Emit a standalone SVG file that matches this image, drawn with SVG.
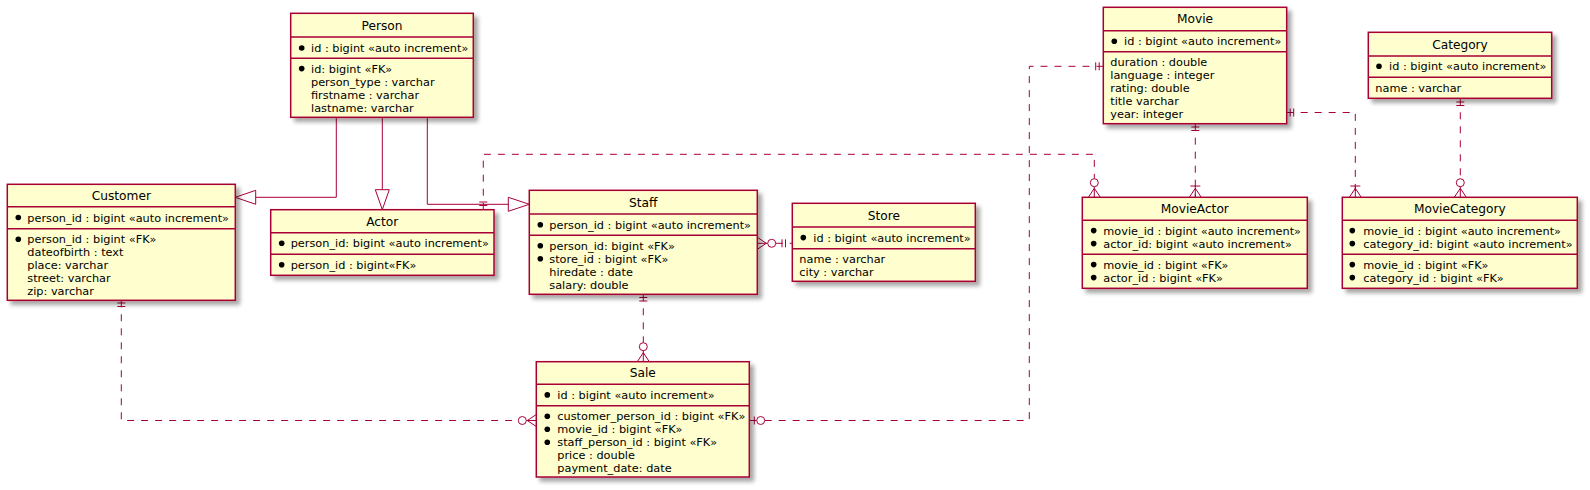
<svg xmlns="http://www.w3.org/2000/svg" width="1590" height="490" viewBox="0 0 1590 490">
<defs>
<filter id="sh" x="-10%" y="-10%" width="130%" height="130%">
<feGaussianBlur in="SourceAlpha" stdDeviation="2"/>
<feOffset dx="4" dy="4"/>
<feComponentTransfer><feFuncA type="linear" slope="0.35"/></feComponentTransfer>
<feMerge><feMergeNode/><feMergeNode in="SourceGraphic"/></feMerge>
</filter>
</defs>
<style>
.box{fill:#FEFECE;stroke:#A80036;stroke-width:1.5;filter:url(#sh)}
.sep{stroke:#A80036;stroke-width:1.5}
.t{font-family:"DejaVu Sans",sans-serif;font-size:12.2px;fill:#000;text-anchor:middle}
.a{font-family:"DejaVu Sans",sans-serif;font-size:11.3px;fill:#000}
.b{fill:#000}
.c{fill:none;stroke:#A80036;stroke-width:1}
.d{fill:none;stroke:#A80036;stroke-width:1;stroke-dasharray:7,7}
.o{fill:#FFFFFF;stroke:#A80036;stroke-width:1}
</style>

<g id="connectors">
<!-- Person -> Customer -->
<path class="c" d="M336.3,117.3 V197.3 H255.7"/>
<polygon class="c" points="235.3,197.3 255.7,190.3 255.7,204.3"/>
<!-- Person -> Actor -->
<path class="c" d="M382.3,117.3 V189.7"/>
<polygon class="c" points="382.3,209.7 375.3,189.7 389.3,189.7"/>
<!-- Person -> Staff -->
<path class="c" d="M427.3,117.3 V204.3 H508.3"/>
<polygon class="c" points="529.3,204.3 508.3,197.3 508.3,211.3"/>

<!-- Actor -> MovieActor -->
<path class="d" d="M483.3,209.7 V154.3 H1094.3 V178.7"/>
<path class="c" d="M479.3,202 H487.3 M479.3,205.5 H487.3"/>
<circle class="o" cx="1094.3" cy="182.7" r="4"/>
<path class="c" d="M1094.3,186.7 V197.3 M1094.3,188.3 L1088.3,197.3 M1094.3,188.3 L1100.3,197.3"/>

<!-- Movie -> MovieActor -->
<path class="d" d="M1195.3,123.7 V197.3"/>
<path class="c" d="M1191.3,127 H1199.3 M1191.3,130.5 H1199.3 M1190.3,186 H1200.3 M1195.3,188.3 L1189.3,197.3 M1195.3,188.3 L1201.3,197.3 M1195.3,186 V197.3"/>

<!-- Movie -> MovieCategory -->
<path class="d" d="M1286.7,112.5 H1355.3 V197.3"/>
<path class="c" d="M1290.2,108.5 V116.5 M1293.7,108.5 V116.5 M1350.3,186 H1360.3 M1355.3,188.3 L1349.3,197.3 M1355.3,188.3 L1361.3,197.3 M1355.3,186 V197.3"/>

<!-- Category -> MovieCategory -->
<path class="d" d="M1460.3,98.3 V178.7"/>
<path class="c" d="M1456.3,102 H1464.3 M1456.3,105.5 H1464.3"/>
<circle class="o" cx="1460.3" cy="182.7" r="4"/>
<path class="c" d="M1460.3,186.7 V197.3 M1460.3,188.3 L1454.3,197.3 M1460.3,188.3 L1466.3,197.3"/>

<!-- Staff -> Store -->
<path class="d" d="M775.7,243.3 H792.3"/>
<path class="c" d="M757.3,243.3 H767.7 M766.3,243.3 L757.3,237.3 M766.3,243.3 L757.3,249.3 M782,239.3 V247.3 M785.5,239.3 V247.3"/>
<circle class="o" cx="771.7" cy="243.3" r="4"/>

<!-- Staff -> Sale -->
<path class="d" d="M643.3,294.3 V342.7"/>
<path class="c" d="M639.3,297.5 H647.3 M639.3,301 H647.3"/>
<circle class="o" cx="643.3" cy="346.7" r="4"/>
<path class="c" d="M643.3,350.7 V361.7 M643.3,352.7 L637.3,361.7 M643.3,352.7 L649.3,361.7"/>

<!-- Customer -> Sale -->
<path class="d" d="M121.3,300.3 V420.5 H518.3"/>
<path class="c" d="M117.3,303 H125.3 M117.3,306.5 H125.3"/>
<circle class="o" cx="522.3" cy="420.5" r="4"/>
<path class="c" d="M526.3,420.5 H536.3 M527.3,420.5 L536.3,414.5 M527.3,420.5 L536.3,426.5"/>

<!-- Sale -> Movie -->
<path class="d" d="M764.7,420.5 H1029.3 V66.3 H1103.3"/>
<path class="c" d="M749.3,420.5 H756.7 M754.3,416.5 V424.5"/>
<circle class="o" cx="760.7" cy="420.5" r="4"/>
<path class="c" d="M1095.7,62.3 V70.3 M1099.2,62.3 V70.3"/>
</g>

<g id="Person">
<rect class="box" x="290.7" y="13.3" width="182.6" height="104"/>
<path class="sep" d="M290.7,37 H473.3 M290.7,58.3 H473.3"/>
<text class="t" x="382" y="29.6">Person</text>
<circle class="b" cx="301.7" cy="48" r="2.8"/>
<text class="a" x="311" y="52">id : bigint «auto increment»</text>
<circle class="b" cx="301.7" cy="68.6" r="2.8"/>
<text class="a" x="311" y="72.6">id: bigint «FK»</text>
<text class="a" x="311" y="85.6">person_type : varchar</text>
<text class="a" x="311" y="98.6">firstname : varchar</text>
<text class="a" x="311" y="111.6">lastname: varchar</text>
</g>

<g id="Customer">
<rect class="box" x="7.3" y="184.3" width="228" height="116"/>
<path class="sep" d="M7.3,206.7 H235.3 M7.3,228.7 H235.3"/>
<text class="t" x="121.3" y="199.9">Customer</text>
<circle class="b" cx="18.3" cy="217.5" r="2.8"/>
<text class="a" x="27.3" y="221.5">person_id : bigint «auto increment»</text>
<circle class="b" cx="18.3" cy="239.2" r="2.8"/>
<text class="a" x="27.3" y="243.2">person_id : bigint «FK»</text>
<text class="a" x="27.3" y="256.2">dateofbirth : text</text>
<text class="a" x="27.3" y="269.2">place: varchar</text>
<text class="a" x="27.3" y="282.2">street: varchar</text>
<text class="a" x="27.3" y="295.2">zip: varchar</text>
</g>

<g id="Actor">
<rect class="box" x="270.7" y="209.7" width="223.3" height="65.6"/>
<path class="sep" d="M270.7,232.7 H494 M270.7,254.3 H494"/>
<text class="t" x="382.3" y="225.6">Actor</text>
<circle class="b" cx="281.7" cy="243.2" r="2.8"/>
<text class="a" x="290.7" y="247.2">person_id: bigint «auto increment»</text>
<circle class="b" cx="281.7" cy="264.8" r="2.8"/>
<text class="a" x="290.7" y="268.8">person_id : bigint«FK»</text>
</g>

<g id="Staff">
<rect class="box" x="529.3" y="190.3" width="228" height="104"/>
<path class="sep" d="M529.3,214 H757.3 M529.3,235.3 H757.3"/>
<text class="t" x="643.3" y="206.6">Staff</text>
<circle class="b" cx="540.3" cy="224.7" r="2.8"/>
<text class="a" x="549.3" y="228.7">person_id : bigint «auto increment»</text>
<circle class="b" cx="540.3" cy="245.8" r="2.8"/>
<text class="a" x="549.3" y="249.8">person_id: bigint «FK»</text>
<circle class="b" cx="540.3" cy="258.8" r="2.8"/>
<text class="a" x="549.3" y="262.8">store_id : bigint «FK»</text>
<text class="a" x="549.3" y="275.8">hiredate : date</text>
<text class="a" x="549.3" y="288.8">salary: double</text>
</g>

<g id="Store">
<rect class="box" x="792.3" y="203.3" width="183" height="78"/>
<path class="sep" d="M792.3,227 H975.3 M792.3,248.7 H975.3"/>
<text class="t" x="883.8" y="219.6">Store</text>
<circle class="b" cx="803.3" cy="237.6" r="2.8"/>
<text class="a" x="813.3" y="241.6">id : bigint «auto increment»</text>
<text class="a" x="799.3" y="263.2">name : varchar</text>
<text class="a" x="799.3" y="276.2">city : varchar</text>
</g>

<g id="Sale">
<rect class="box" x="536.3" y="361.7" width="213" height="115.3"/>
<path class="sep" d="M536.3,384.3 H749.3 M536.3,405.7 H749.3"/>
<text class="t" x="642.8" y="377.4">Sale</text>
<circle class="b" cx="547.3" cy="394.9" r="2.8"/>
<text class="a" x="557.3" y="398.9">id : bigint «auto increment»</text>
<circle class="b" cx="547.3" cy="416.2" r="2.8"/>
<text class="a" x="557.3" y="420.2">customer_person_id : bigint «FK»</text>
<circle class="b" cx="547.3" cy="429.2" r="2.8"/>
<text class="a" x="557.3" y="433.2">movie_id : bigint «FK»</text>
<circle class="b" cx="547.3" cy="442.2" r="2.8"/>
<text class="a" x="557.3" y="446.2">staff_person_id : bigint «FK»</text>
<text class="a" x="557.3" y="459.2">price : double</text>
<text class="a" x="557.3" y="472.2">payment_date: date</text>
</g>

<g id="Movie">
<rect class="box" x="1103.3" y="7.3" width="183.4" height="116.4"/>
<path class="sep" d="M1103.3,30.7 H1286.7 M1103.3,51.7 H1286.7"/>
<text class="t" x="1195" y="23.4">Movie</text>
<circle class="b" cx="1114.3" cy="41.2" r="2.8"/>
<text class="a" x="1124" y="45.2">id : bigint «auto increment»</text>
<text class="a" x="1110.3" y="66">duration : double</text>
<text class="a" x="1110.3" y="79">language : integer</text>
<text class="a" x="1110.3" y="92">rating: double</text>
<text class="a" x="1110.3" y="105">title varchar</text>
<text class="a" x="1110.3" y="118">year: integer</text>
</g>

<g id="Category">
<rect class="box" x="1368.3" y="32.3" width="183.4" height="66"/>
<path class="sep" d="M1368.3,56 H1551.7 M1368.3,77.3 H1551.7"/>
<text class="t" x="1460" y="48.6">Category</text>
<circle class="b" cx="1379" cy="66.3" r="2.8"/>
<text class="a" x="1389" y="70.3">id : bigint «auto increment»</text>
<text class="a" x="1375.3" y="91.6">name : varchar</text>
</g>

<g id="MovieActor">
<rect class="box" x="1082.3" y="197.3" width="225" height="91"/>
<path class="sep" d="M1082.3,220.3 H1307.3 M1082.3,254.3 H1307.3"/>
<text class="t" x="1194.8" y="213.2">MovieActor</text>
<circle class="b" cx="1093.7" cy="230.6" r="2.8"/>
<text class="a" x="1103.3" y="234.6">movie_id : bigint «auto increment»</text>
<circle class="b" cx="1093.7" cy="243.6" r="2.8"/>
<text class="a" x="1103.3" y="247.6">actor_id: bigint «auto increment»</text>
<circle class="b" cx="1093.7" cy="264.6" r="2.8"/>
<text class="a" x="1103.3" y="268.6">movie_id : bigint «FK»</text>
<circle class="b" cx="1093.7" cy="277.6" r="2.8"/>
<text class="a" x="1103.3" y="281.6">actor_id : bigint «FK»</text>
</g>

<g id="MovieCategory">
<rect class="box" x="1342.3" y="197.3" width="235" height="91"/>
<path class="sep" d="M1342.3,220.3 H1577.3 M1342.3,254.3 H1577.3"/>
<text class="t" x="1459.8" y="213.2">MovieCategory</text>
<circle class="b" cx="1352.3" cy="230.6" r="2.8"/>
<text class="a" x="1363.3" y="234.6">movie_id : bigint «auto increment»</text>
<circle class="b" cx="1352.3" cy="243.6" r="2.8"/>
<text class="a" x="1363.3" y="247.6">category_id: bigint «auto increment»</text>
<circle class="b" cx="1352.3" cy="264.6" r="2.8"/>
<text class="a" x="1363.3" y="268.6">movie_id : bigint «FK»</text>
<circle class="b" cx="1352.3" cy="277.6" r="2.8"/>
<text class="a" x="1363.3" y="281.6">category_id : bigint «FK»</text>
</g>
</svg>
